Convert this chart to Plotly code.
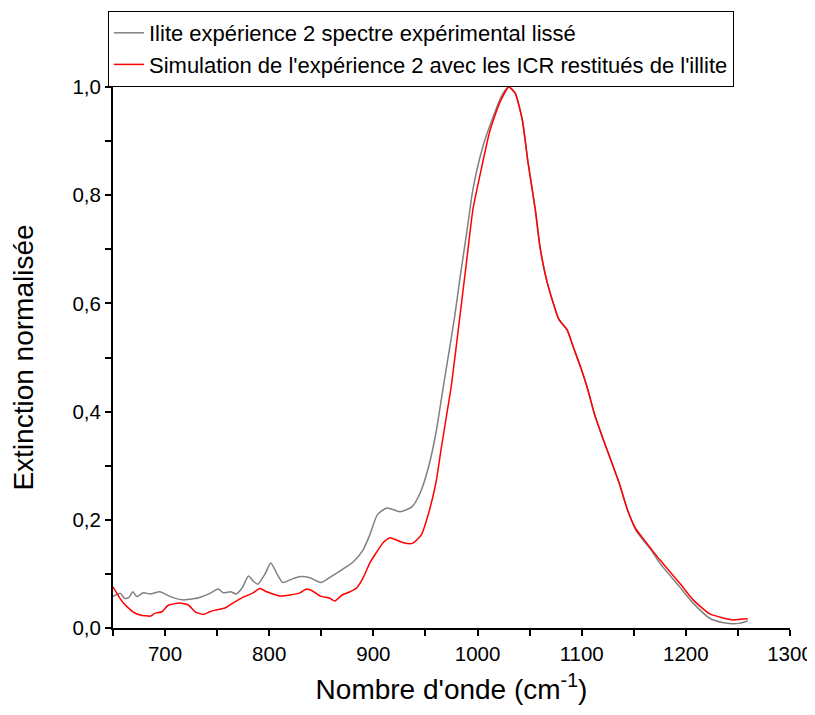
import plotly.graph_objects as go

# Experimental smoothed spectrum (gray)
gray_x = [650, 657, 661, 665, 669, 673, 679, 686, 695, 705, 717, 727, 734, 743, 751, 756, 763, 768,
          774, 780, 785, 789, 796, 801.5, 807.5, 813, 820, 830, 839, 849.5, 861, 870, 880.5, 890,
          896.5, 904, 913, 925.5, 937, 945, 953, 960, 965, 970, 978, 983, 990, 995.5, 1005, 1015,
          1023.5, 1030, 1036, 1043, 1048.5, 1055.5, 1060, 1067, 1078, 1086, 1092, 1099, 1106, 1112,
          1121, 1129, 1136, 1144, 1152, 1160, 1166, 1175, 1194, 1207, 1223, 1235, 1245, 1252, 1259.5]
gray_y = [0.058, 0.064, 0.055, 0.056, 0.067, 0.058, 0.065, 0.063, 0.067, 0.058, 0.052, 0.054, 0.057,
          0.064, 0.072, 0.065, 0.067, 0.063, 0.074, 0.096, 0.086, 0.081, 0.100, 0.120, 0.100, 0.084,
          0.089, 0.095, 0.093, 0.084, 0.097, 0.108, 0.122, 0.144, 0.172, 0.210, 0.222, 0.215, 0.224,
          0.250, 0.298, 0.360, 0.420, 0.480, 0.575, 0.645, 0.736, 0.810, 0.889, 0.945, 0.985, 1.000,
          0.989, 0.939, 0.860, 0.773, 0.704, 0.638, 0.571, 0.551, 0.519, 0.482, 0.440, 0.397, 0.347,
          0.305, 0.268, 0.218, 0.181, 0.160, 0.146, 0.120, 0.076, 0.046, 0.018, 0.010, 0.008, 0.009,
          0.013]

# Simulation (red)
red_x = [650, 655, 660, 669, 676, 686, 690, 697, 703, 714, 722, 729, 736.5, 743, 748, 757.5, 765, 775,
         784.5, 791, 797.5, 803.5, 810, 820, 829.5, 836, 842, 849, 858, 863, 870, 877.5, 884, 890,
         896.5, 903, 909.5, 916, 925.5, 933, 938, 946, 953, 960, 965, 970, 975, 983, 990, 995.5, 1004,
         1012, 1021.5, 1030, 1036, 1043, 1048.5, 1055.5, 1060, 1067, 1078, 1086, 1092, 1099, 1106,
         1112, 1121, 1129, 1136, 1144, 1152, 1160, 1175, 1194, 1207, 1223, 1235, 1245, 1252, 1259.5]
red_y = [0.076, 0.060, 0.046, 0.030, 0.024, 0.022, 0.027, 0.030, 0.042, 0.046, 0.043, 0.030, 0.025,
         0.030, 0.033, 0.037, 0.046, 0.057, 0.065, 0.073, 0.067, 0.063, 0.059, 0.061, 0.065, 0.072,
         0.068, 0.059, 0.055, 0.050, 0.061, 0.067, 0.074, 0.092, 0.120, 0.140, 0.158, 0.167, 0.160,
         0.156, 0.157, 0.172, 0.212, 0.268, 0.330, 0.390, 0.450, 0.575, 0.686, 0.773, 0.852, 0.920,
         0.972, 1.000, 0.989, 0.939, 0.860, 0.773, 0.704, 0.638, 0.571, 0.551, 0.519, 0.482, 0.440,
         0.397, 0.347, 0.305, 0.268, 0.218, 0.183, 0.163, 0.126, 0.083, 0.052, 0.026, 0.019, 0.015,
         0.016, 0.017]

x_ticks = [700, 800, 900, 1000, 1100, 1200, 1300]
y_ticks = [0.0, 0.2, 0.4, 0.6, 0.8, 1.0]
y_tick_labels = ["0,0", "0,2", "0,4", "0,6", "0,8", "1,0"]

names = ["Ilite expérience 2 spectre expérimental lissé",
         "Simulation de l'expérience 2 avec les ICR restitués de l'illite"]

FONT = "Liberation Sans, Arial, sans-serif"

fig = go.Figure()
fig.add_trace(go.Scatter(x=gray_x, y=gray_y, mode="lines", name=names[0],
                         line=dict(color="#808080", width=1.5, shape="spline", smoothing=0.6)))
fig.add_trace(go.Scatter(x=red_x, y=red_y, mode="lines", name=names[1],
                         line=dict(color="#ff0000", width=1.5, shape="spline", smoothing=0.5)))

# page body has an 8px default margin: size the figure to fill the rest of the window
OFF = 8
W, H = 815 - OFF, 715 - OFF
L, R, T, B = 113 - OFF, 25, 87 - OFF, 87
pw, ph = W - L - R, H - T - B

fig.update_layout(
    width=W, height=H,
    margin=dict(l=L, r=R, t=T, b=B, autoexpand=False),
    paper_bgcolor="white", plot_bgcolor="white",
    font=dict(family=FONT, color="black", size=21),
    showlegend=True,
    legend=dict(x=(108 - OFF - L) / pw, y=(H - B - (11 - OFF)) / ph, xanchor="left", yanchor="top",
                bordercolor="black", borderwidth=1, bgcolor="white",
                font=dict(family=FONT, size=22, color="black"),
                tracegroupgap=0),
    xaxis=dict(range=[650, 1300], tickmode="array", tickvals=x_ticks, automargin=False,
               ticks="outside", ticklen=6, tickwidth=1.5, tickcolor="black",
               showline=True, linewidth=2, linecolor="black", mirror=False,
               showgrid=False, zeroline=False,
               tickfont=dict(family=FONT, size=20.5, color="black"),
               minor=dict(ticks="outside", ticklen=6, tickwidth=1.5, tickcolor="black",
                          tick0=650, dtick=50, showgrid=False),
               title=dict(text="Nombre d'onde (cm<sup>-1</sup>)", standoff=16,
                          font=dict(family=FONT, size=28, color="black"))),
    yaxis=dict(range=[0, 1.0], tickmode="array", tickvals=y_ticks, ticktext=y_tick_labels,
               automargin=False,
               ticks="outside", ticklen=6, tickwidth=1.5, tickcolor="black",
               showline=True, linewidth=2, linecolor="black", mirror=False,
               showgrid=False, zeroline=False,
               tickfont=dict(family=FONT, size=20.5, color="black"),
               minor=dict(ticks="outside", ticklen=6, tickwidth=1.5, tickcolor="black",
                          tick0=0, dtick=0.1, showgrid=False),
               title=dict(text="Extinction normalisée", standoff=34,
                          font=dict(family=FONT, size=28, color="black"))),
)

fig.write_html("out.html")
